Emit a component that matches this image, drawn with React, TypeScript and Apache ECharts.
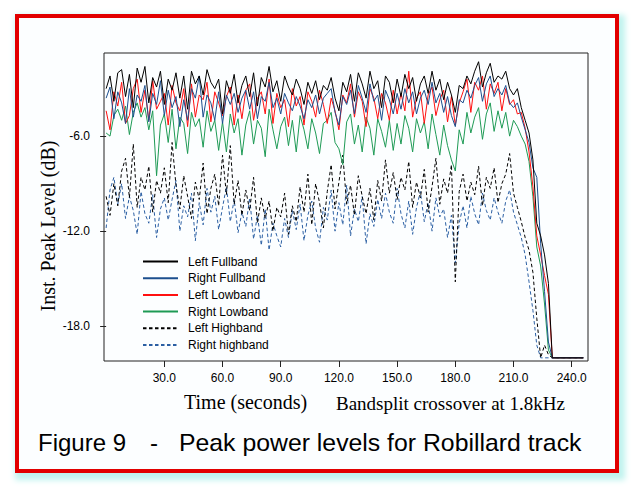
import React, { useEffect, useRef } from "react";
import * as echarts from "echarts";

// ---------- data ----------
const SERIES_NAMES = [
  "Left Fullband",
  "Right Fullband",
  "Left Lowband",
  "Right Lowband",
  "Left Highband",
  "Right highband",
];

const X_TICKS = [30, 60, 90, 120, 150, 180, 210, 240];
const Y_TICKS = [-18, -12, -6];

// samples every 2 s from t = 0 to t = 230, then a flat tail to t = 246
const TIME_STEP_S = 2;
const TAIL_END_S = 246;
const TAIL_VALUE = -20;

const leftFullband = [
  -3.0, -2.2, -3.8, -2.0, -1.8, -3.5, -2.1, -4.2, -1.7, -2.6, -1.6, -3.9, -2.3, -2.9, -1.9,
  -4.0, -2.4, -3.1, -2.0, -3.6, -2.2, -4.3, -1.9, -2.7, -2.2, -3.4, -1.8, -2.6, -3.0, -2.4,
  -4.6, -2.5, -3.3, -2.1, -3.9, -2.8, -2.2, -3.5, -2.0, -4.1, -2.3, -2.9, -1.6, -3.2, -2.5,
  -3.8, -2.2, -2.9, -3.4, -2.4, -3.0, -4.0, -2.6, -3.3, -2.5, -3.7, -2.8, -3.1, -2.3, -3.6,
  -4.4, -2.6, -3.2, -2.1, -3.8, -2.0, -2.7, -3.6, -1.9, -3.0, -2.5, -4.2, -2.2, -2.6, -3.9,
  -2.4, -3.5, -2.1, -3.0, -2.3, -3.8, -2.7, -2.2, -3.3, -1.9, -3.1, -2.4, -3.7, -2.6, -3.4,
  -4.5, -2.8, -3.0, -2.2, -2.7, -1.9, -1.3, -2.9, -2.0, -1.4, -2.6, -2.2, -2.4, -1.9, -3.0,
  -3.4, -3.0, -4.2, -5.0, -5.8, -7.5, -11.5, -12.3, -13.5, -15.3, -20.0,
];

const rightFullband = [
  -3.6, -2.9, -4.9, -3.2, -3.9, -5.2, -3.0, -4.8, -3.4, -3.8, -2.8, -5.1, -3.3, -4.0, -2.5,
  -4.7, -3.1, -4.2, -3.5, -5.4, -3.7, -5.0, -3.0, -3.6, -2.2, -4.8, -3.4, -3.9, -5.0, -3.2,
  -5.2, -3.4, -4.0, -3.3, -4.5, -3.6, -3.1, -4.3, -3.2, -4.9, -3.5, -3.8, -2.6, -4.2, -3.6,
  -4.6, -3.3, -3.9, -4.4, -3.5, -4.1, -4.9, -3.7, -4.2, -3.4, -4.6, -3.6, -3.3, -3.0, -4.5,
  -5.3, -3.5, -4.0, -3.1, -4.6, -2.8, -3.6, -4.5, -2.7, -3.8, -3.4, -5.0, -3.1, -3.7, -4.6,
  -3.3, -4.3, -3.0, -3.9, -3.2, -4.6, -3.6, -3.1, -4.0, -2.6, -3.9, -3.3, -4.5, -3.5, -4.7,
  -5.4, -3.7, -3.9, -3.1, -3.6, -2.8, -2.3, -3.8, -2.7, -2.2, -3.5, -3.0, -3.4, -2.8, -3.9,
  -4.2, -3.9, -4.8, -5.6, -6.4, -8.0, -8.6, -12.8, -15.8, -19.0, -20.0,
];

const leftLowband = [
  -4.4, -5.6, -3.2, -4.1, -2.6, -5.2, -4.7, -3.0, -2.4, -4.5, -3.1, -5.0, -2.5, -4.3, -3.8,
  -3.3, -5.3, -2.8, -3.9, -4.4, -3.0, -5.4, -2.7, -4.8, -3.4, -3.7, -2.6, -5.1, -3.2, -3.9,
  -4.7, -3.5, -2.9, -5.3, -3.4, -4.9, -3.1, -2.7, -5.0, -3.6, -3.2, -4.6, -2.4, -5.2, -3.3,
  -4.2, -3.7, -5.4, -3.0, -4.1, -3.5, -5.3, -3.2, -3.8, -4.8, -3.1, -4.0, -5.2, -3.6, -4.4,
  -5.6, -3.4, -3.9, -2.7, -4.8, -3.2, -3.8, -5.4, -3.0, -3.6, -4.9, -3.3, -3.9, -5.0, -3.1,
  -4.6, -3.3, -4.4, -1.9, -4.8, -3.6, -3.2, -5.2, -3.4, -2.9, -4.7, -3.7, -3.1, -5.1, -3.5,
  -5.3, -3.9, -3.2, -2.4, -4.5, -2.6, -3.1, -2.2, -4.3, -2.7, -3.3, -2.6, -4.4, -3.0, -4.0,
  -3.7, -4.6, -4.5, -5.5, -7.0, -9.2, -12.3, -13.5, -14.8, -16.0, -20.0,
];

const rightLowband = [
  -5.8, -6.0, -4.7, -4.3, -5.0, -4.1, -5.9, -4.5, -3.9, -4.8, -4.2, -5.6, -4.4, -8.5, -5.3,
  -4.6, -6.4, -4.3, -6.8, -4.8, -5.2, -7.1, -4.5, -5.4, -4.9, -6.7, -4.4, -5.7, -5.0, -6.9,
  -5.1, -7.0, -4.6, -5.8, -4.9, -7.2, -5.3, -4.4, -6.5, -5.0, -5.5, -7.3, -4.3, -5.6, -6.8,
  -5.4, -4.8, -6.6, -5.0, -7.0, -4.7, -5.6, -6.8, -4.9, -5.8, -7.1, -5.2, -5.0, -4.5, -6.4,
  -6.8, -7.8, -5.1, -4.6, -6.5, -5.3, -7.0, -4.8, -5.5, -7.2, -4.9, -5.7, -6.7, -5.0, -6.9,
  -5.2, -6.5, -4.7, -5.5, -7.0, -4.9, -5.8, -5.1, -6.8, -4.6, -5.9, -7.2, -5.3, -6.6, -7.5,
  -8.2, -5.6, -6.5, -4.5, -5.8, -4.8, -4.2, -6.2, -4.6, -3.9, -5.7, -4.4, -5.5, -4.5, -6.0,
  -5.0, -5.4, -6.0, -6.5, -7.6, -9.8, -13.0, -14.2, -16.6, -19.5, -20.0,
];

const leftHighband = [
  -9.8, -11.0, -9.0, -10.4, -8.2, -7.4, -9.9, -6.5, -10.5, -8.6, -9.4, -7.9, -10.8, -8.8, -9.6,
  -8.0, -10.2, -6.4, -9.1, -10.6, -8.5, -9.8, -11.2, -8.9, -10.0, -7.7, -10.9, -9.3, -8.4, -10.4,
  -7.2, -9.7, -6.6, -10.3, -8.8, -11.0, -9.4, -10.7, -8.6, -11.5, -9.9, -11.2, -10.1, -12.0, -10.5,
  -11.1, -9.6, -12.2, -10.4, -11.4, -9.2, -10.8, -8.4, -11.6, -9.0, -10.2, -11.8, -9.5, -7.8, -10.6,
  -8.9, -7.2, -10.3, -9.1, -11.0, -8.5, -9.8, -10.9, -9.3, -11.3, -8.8, -10.1, -7.5, -9.6, -8.3,
  -10.0, -8.6, -9.4, -7.6, -10.5, -8.9, -9.9, -8.1, -10.8, -9.2, -7.4, -10.3, -8.7, -9.6, -7.8,
  -15.2, -9.5, -8.4, -10.1, -8.9, -9.7, -7.9, -10.4, -8.6, -9.3, -8.0, -10.2, -9.0, -8.4, -7.1,
  -9.6, -10.5, -11.4, -12.4, -13.2, -14.6, -17.5, -20.0, -19.2, -19.8, -20.0,
];

const rightHighband = [
  -11.8, -9.4, -8.6, -10.3, -9.0, -11.2, -9.8, -10.7, -12.2, -9.5, -10.9, -11.5, -9.7, -12.4, -10.6,
  -9.9, -11.3, -10.0, -8.8, -12.0, -10.4, -11.1, -9.6, -12.6, -10.2, -11.6, -9.3, -10.8, -9.8, -11.9,
  -10.5, -9.2, -11.4, -10.0, -12.1, -10.8, -11.7, -9.9, -12.5, -11.0, -12.9, -10.6, -13.2, -11.5, -12.3,
  -13.0, -11.2, -12.4, -10.7, -11.9, -10.3, -12.6, -11.0, -10.1, -11.8, -12.7, -10.5, -11.3, -9.4, -12.0,
  -10.2, -11.6, -9.1, -12.3, -10.6, -11.4, -9.8, -12.8, -10.9, -11.7, -10.0, -11.2, -9.6, -10.8, -11.5,
  -9.3, -10.9, -11.8, -10.1, -12.2, -10.5, -9.5, -11.4, -10.2, -12.0, -9.9, -11.1, -10.6, -12.4, -11.0,
  -14.0, -11.5, -10.4, -11.8, -9.8, -10.9, -11.6, -9.6, -10.7, -11.3, -9.9, -10.8, -11.5, -10.1, -9.4,
  -10.8, -11.6, -12.4, -13.5, -15.2, -17.0, -19.2, -20.0, -20.0, -20.0, -20.0,
];

const SERIES_VALUES = [
  leftFullband,
  rightFullband,
  leftLowband,
  rightLowband,
  leftHighband,
  rightHighband,
];

// ---------- styles ----------
const COLORS = ["#000000", "#1c4f8e", "#ff1010", "#1e9a55", "#000000", "#2b5fa3"];
const DASHED = [false, false, false, false, true, true];

function toPairs(values: number[]): [number, number][] {
  const pts: [number, number][] = values.map((v, i) => [i * TIME_STEP_S, v]);
  pts.push([TAIL_END_S, TAIL_VALUE]);
  return pts;
}

export default function App() {
  const ref = useRef<HTMLDivElement>(null);

  useEffect(() => {
    document.body.style.margin = "0";
    if (!ref.current) return;
    const chart = echarts.init(ref.current, undefined, { renderer: "svg" });

    const serif = "Liberation Serif";
    const sans = "Liberation Sans";

    chart.setOption({
      animation: false,
      grid: {
        left: 104,
        top: 53,
        right: 43,
        bottom: 126,
        show: true,
        borderColor: "#222",
        borderWidth: 1,
        backgroundColor: "transparent",
      },
      xAxis: {
        type: "value",
        min: -1.1,
        max: 248.4,
        axisLine: { show: false },
        splitLine: { show: false },
        axisTick: {
          show: true,
          length: 6,
          customValues: X_TICKS,
          lineStyle: { color: "#222" },
        },
        axisLabel: {
          customValues: X_TICKS,
          formatter: (v: number) => v.toFixed(1),
          fontFamily: sans,
          fontSize: 12,
          color: "#000",
          margin: 11,
        },
      },
      yAxis: {
        type: "value",
        min: -20.2,
        max: -0.75,
        axisLine: { show: false },
        splitLine: { show: false },
        axisTick: {
          show: true,
          length: 6,
          customValues: Y_TICKS,
          lineStyle: { color: "#222" },
        },
        axisLabel: {
          customValues: Y_TICKS,
          formatter: (v: number) => v.toFixed(1),
          fontFamily: sans,
          fontSize: 12,
          color: "#000",
          margin: 14,
        },
      },
      legend: {
        orient: "vertical",
        left: 142,
        top: 255.5,
        padding: 0,
        itemWidth: 35,
        itemHeight: 12,
        itemGap: 4.7,
        data: SERIES_NAMES,
        itemStyle: { opacity: 0 },
        textStyle: {
          fontFamily: sans,
          fontSize: 12,
          color: "#000",
          padding: [0, 0, 0, 5],
        },
      },
      series: SERIES_NAMES.map((name, k) => ({
        name,
        type: "line",
        data: toPairs(SERIES_VALUES[k]),
        showSymbol: false,
        symbol: "none",
        clip: true,
        color: COLORS[k],
        lineStyle: {
          color: COLORS[k],
          width: 1,
          type: DASHED[k] ? [3.5, 2.5] : "solid",
        },
        z: [6, 5, 4, 3, 2, 1][k],
      })),
      graphic: [
        {
          type: "text",
          x: 48,
          y: 226,
          rotation: Math.PI / 2,
          style: {
            text: "Inst. Peak Level (dB)",
            fontFamily: serif,
            fontSize: 20,
            fill: "#000",
            align: "center",
            verticalAlign: "middle",
          },
        },
        {
          type: "text",
          x: 184,
          y: 402,
          style: {
            text: "Time (seconds)",
            fontFamily: serif,
            fontSize: 20,
            fill: "#000",
            verticalAlign: "middle",
          },
        },
        {
          type: "text",
          x: 336,
          y: 403,
          style: {
            text: "Bandsplit crossover at 1.8kHz",
            fontFamily: serif,
            fontSize: 19,
            fill: "#000",
            verticalAlign: "middle",
          },
        },
        {
          type: "text",
          x: 38,
          y: 442,
          style: {
            text: "Figure 9",
            fontFamily: sans,
            fontSize: 24,
            fill: "#000",
            verticalAlign: "middle",
          },
        },
        {
          type: "text",
          x: 150,
          y: 442,
          style: {
            text: "-",
            fontFamily: sans,
            fontSize: 24,
            fill: "#000",
            verticalAlign: "middle",
          },
        },
        {
          type: "text",
          x: 179,
          y: 442,
          style: {
            text: "Peak power levels for Robillard track",
            fontFamily: sans,
            fontSize: 24.8,
            fill: "#000",
            verticalAlign: "middle",
          },
        },
      ],
    });

    return () => chart.dispose();
  }, []);

  return (
    <div
      style={{
        position: "absolute",
        left: 0,
        top: 0,
        width: 631,
        height: 487,
        background: "#ffffff",
        overflow: "hidden",
      }}
    >
      <div
        style={{
          position: "absolute",
          left: 15,
          top: 14,
          width: 596,
          height: 451,
          border: "4px solid #e20000",
          background: "#fcfeff",
          boxShadow: "3px 4px 6px 3px #bff3ee",
        }}
      />
      <div
        ref={ref}
        style={{ position: "absolute", left: 0, top: 0, width: 631, height: 487 }}
      />
    </div>
  );
}
